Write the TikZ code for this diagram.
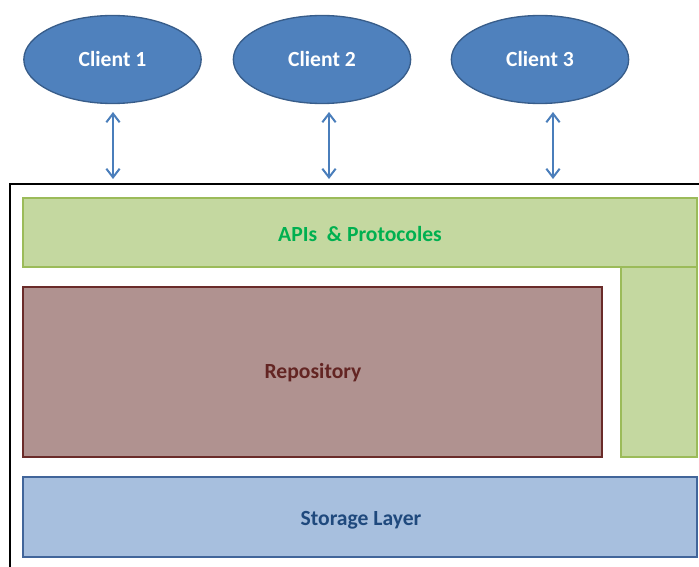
\documentclass[tikz,border=0pt]{standalone}
\usepackage{fontspec}
\setmainfont{Carlito}
\usetikzlibrary{shapes.geometric,arrows.meta}

\definecolor{clientfill}{HTML}{4F81BD}
\definecolor{clientedge}{HTML}{385D8A}
\definecolor{arrowblue}{HTML}{4A7EBB}
\definecolor{apifill}{HTML}{C4D8A0}
\definecolor{apiedge}{HTML}{9BBB59}
\definecolor{apitext}{HTML}{00B050}
\definecolor{repofill}{HTML}{B09290}
\definecolor{repoedge}{HTML}{6A2B29}
\definecolor{repotext}{HTML}{632523}
\definecolor{storefill}{HTML}{A7BFDE}
\definecolor{storeedge}{HTML}{41659A}
\definecolor{storetext}{HTML}{1F497D}

\tikzset{every picture/.style={line width=0.75pt}}

\begin{document}
\begin{tikzpicture}[x=0.75pt,y=0.75pt,yscale=-1,xscale=1,
	client/.style={ellipse, draw=clientedge, fill=clientfill, line width=1pt, minimum width=133pt, minimum height=66pt, inner sep=0pt, text=white, font=\fontsize{16.2}{18}\selectfont\bfseries},
	label text/.style={inner sep=0.75pt, font=\fontsize{16.2}{18}\selectfont\bfseries},
	link/.style={draw=arrowblue, line width=1.5pt, {Straight Barb[length=6.5pt,width=10pt]}-{Straight Barb[length=6.5pt,width=10pt]}}]
	\useasboundingbox (0,0) rectangle (699,567);

	%Shape: Ellipse [id:client1] 
	\node [client] (client1) at (112.5,59.5) {Client 1};
	%Shape: Ellipse [id:client2] 
	\node [client] (client2) at (322,59.5) {Client 2};
	%Shape: Ellipse [id:client3] 
	\node [client] (client3) at (540,59.5) {Client 3};

	%Shape: Outer frame (cut by the page) 
	\draw [line width=1.5pt]  (699,184) -- (10,184) -- (10,567) ;

	%Shape: Rectangle [id:api] 
	\draw [draw=apiedge, fill=apifill, line width=1.5pt]  (23,198) -- (697,198) -- (697,267) -- (23,267) -- cycle ;
	%Shape: Rectangle [id:apiside] 
	\draw [draw=apiedge, fill=apifill, line width=1.5pt]  (621,267) -- (697,267) -- (697,457) -- (621,457) -- cycle ;
	%Shape: Rectangle [id:repo] 
	\draw [draw=repoedge, fill=repofill, line width=1.5pt]  (23,287) -- (602,287) -- (602,457) -- (23,457) -- cycle ;
	%Shape: Rectangle [id:store] 
	\draw [draw=storeedge, fill=storefill, line width=1.5pt]  (23,477) -- (697,477) -- (697,557) -- (23,557) -- cycle ;

	% Arrow ends
	\coordinate (c1top) at (113,112);
	\coordinate (c1bot) at (113,179);
	\coordinate (c2top) at (329,112);
	\coordinate (c2bot) at (329,179);
	\coordinate (c3top) at (553,112);
	\coordinate (c3bot) at (553,179);
	\draw [link] (c1top) -- (c1bot);
	\draw [link] (c2top) -- (c2bot);
	\draw [link] (c3top) -- (c3bot);

	% Text Node
	\node [label text, text=apitext] (apilabel) at (360,234) {APIs\ \ \&~Protocoles};
	% Text Node
	\node [label text, text=repotext] (repolabel) at (313,373) {Repository};
	% Text Node
	\node [label text, text=storetext] (storelabel) at (361,520) {Storage Layer};

\end{tikzpicture}
\end{document}
